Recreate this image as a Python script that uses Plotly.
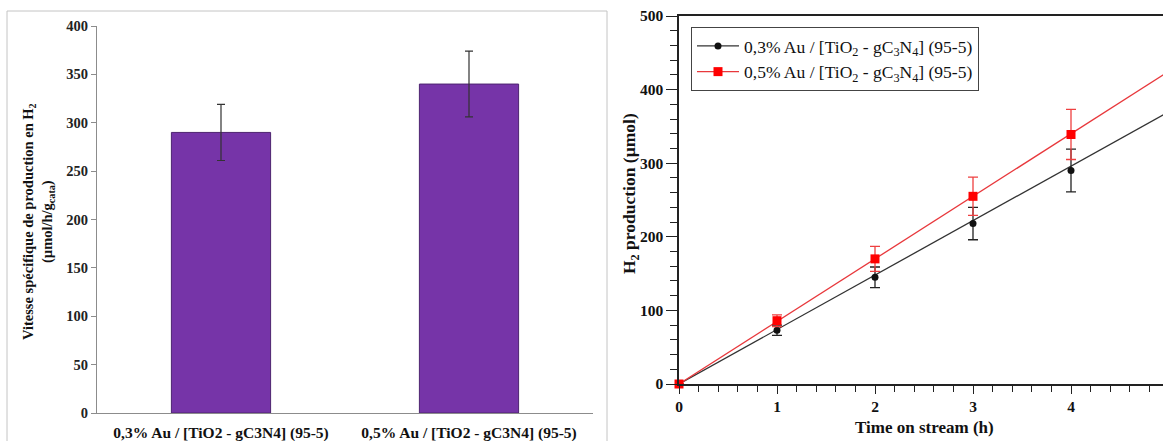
import plotly.graph_objects as go

# ---------------- data ----------------
bar_categories = ["0,3% Au / [TiO2 - gC3N4] (95-5)", "0,5% Au / [TiO2 - gC3N4] (95-5)"]
bar_values = [290, 340]
bar_errors = [29, 34]

time_h = [0, 1, 2, 3, 4]
h2_03 = [0, 73, 145, 218, 290]
h2_03_err = [0, 7, 14, 22, 29]
h2_05 = [0, 86, 170, 255, 339]
h2_05_err = [0, 8, 17, 26, 34]

fit_x = [0, 5]
fit_03 = [0, 370]
fit_05 = [0, 425]

series_names = ["0,3% Au / [TiO<sub>2</sub> - gC<sub>3</sub>N<sub>4</sub>] (95-5)",
                "0,5% Au / [TiO<sub>2</sub> - gC<sub>3</sub>N<sub>4</sub>] (95-5)"]

W, H = 1163, 441
def px(x):
    return x / W
def py(y):
    return 1 - y / H

SERIF = "Liberation Serif"
BLACK = "#111111"
RED = "#ff0000"
RED_LINE = "#e8383c"

fig = go.Figure()

# ---------- left: bar chart ----------
fig.add_trace(go.Bar(
    x=bar_categories, y=bar_values,
    marker=dict(color="#7634a8", line=dict(color="#4e2470", width=1)),
    error_y=dict(type="data", array=bar_errors, color="#333333", thickness=1.2, width=4),
    xaxis="x", yaxis="y", showlegend=False,
))

# ---------- right: line chart ----------
fig.add_trace(go.Scatter(x=fit_x, y=fit_03, mode="lines",
                         line=dict(color="#333333", width=1.3),
                         xaxis="x2", yaxis="y2", showlegend=False))
fig.add_trace(go.Scatter(x=fit_x, y=fit_05, mode="lines",
                         line=dict(color=RED_LINE, width=1.3),
                         xaxis="x2", yaxis="y2", showlegend=False))
fig.add_trace(go.Scatter(x=time_h, y=h2_03, mode="markers",
                         marker=dict(color=BLACK, size=7, symbol="circle"),
                         error_y=dict(type="data", array=h2_03_err, color="#222222", thickness=1.3, width=5),
                         xaxis="x2", yaxis="y2", showlegend=False, cliponaxis=False))
fig.add_trace(go.Scatter(x=time_h, y=h2_05, mode="markers",
                         marker=dict(color=RED, size=9, symbol="square"),
                         error_y=dict(type="data", array=h2_05_err, color="#ee4040", thickness=1.3, width=5),
                         xaxis="x2", yaxis="y2", showlegend=False, cliponaxis=False))
# legend entries
fig.add_trace(go.Scatter(x=[None], y=[None], mode="lines+markers", name=series_names[0],
                         line=dict(color="#333333", width=1.3),
                         marker=dict(color=BLACK, size=7, symbol="circle"),
                         xaxis="x2", yaxis="y2"))
fig.add_trace(go.Scatter(x=[None], y=[None], mode="lines+markers", name=series_names[1],
                         line=dict(color=RED_LINE, width=1.3),
                         marker=dict(color=RED, size=9, symbol="square"),
                         xaxis="x2", yaxis="y2"))

axis_gray = "#8c8c8c"
fig.update_layout(
    width=W, height=H,
    margin=dict(l=0, r=0, t=0, b=0, autoexpand=False),
    paper_bgcolor="white", plot_bgcolor="rgba(0,0,0,0)",
    bargap=0.6,
    font=dict(family=SERIF, color="#111111"),
    xaxis=dict(domain=[px(97), px(593)], showline=True, linecolor=axis_gray, linewidth=1,
               ticks="", showgrid=False, zeroline=False, automargin=False,
               tickfont=dict(family=SERIF, size=15.5, weight="bold", color="#111111"),
               ticklabelstandoff=5, anchor="y"),
    yaxis=dict(domain=[py(413), py(26)], range=[0, 400], dtick=50,
               showline=True, linecolor=axis_gray, linewidth=1,
               ticks="outside", ticklen=5, tickcolor=axis_gray,
               showgrid=False, zeroline=False, automargin=False,
               tickfont=dict(family=SERIF, size=14.5, weight="bold", color="#222222"),
               anchor="x"),
    xaxis2=dict(domain=[px(679), 1.0], range=[0, (W - 679) / 98.0], dtick=1,
                showline=True, mirror=True, linecolor="#222222", linewidth=1.5,
                ticks="outside", ticklen=8, tickcolor="#222222", tickwidth=1.3,
                minor=dict(dtick=0.2, ticks="outside", ticklen=6, tickcolor="#222222", tickwidth=1.2),
                showgrid=False, zeroline=False, automargin=False,
                tickfont=dict(family=SERIF, size=15.5, weight="bold", color="#111111"),
                anchor="y2"),
    yaxis2=dict(domain=[py(384), py(16)], range=[0, 500], dtick=100,
                showline=True, linecolor="#222222", linewidth=1.5,
                ticks="outside", ticklen=11, tickcolor="#222222", tickwidth=1.3,
                minor=dict(dtick=20, ticks="outside", ticklen=7, tickcolor="#222222", tickwidth=1.2),
                showgrid=False, zeroline=False, automargin=False,
                tickfont=dict(family=SERIF, size=15.5, weight="bold", color="#111111"),
                anchor="x2"),
    legend=dict(x=px(691), y=py(27), xanchor="left", yanchor="top",
                bordercolor="#444444", borderwidth=1, bgcolor="white",
                font=dict(family=SERIF, size=17.5, color="#111111"),
                itemwidth=42, tracegroupgap=0),
    shapes=[dict(type="rect", xref="paper", yref="paper",
                 x0=px(7), x1=px(607), y0=-0.05, y1=py(11),
                 line=dict(color="#c4c4c4", width=1), fillcolor="rgba(0,0,0,0)", layer="below")],
    annotations=[
        dict(text="Vitesse spécifique de production en H<sub>2</sub><br>(µmol/h/g<sub>cata</sub>)",
             xref="paper", yref="paper", x=px(38), y=py(222), xanchor="center", yanchor="middle",
             textangle=-90, showarrow=False,
             font=dict(family=SERIF, size=14.5, weight="bold", color="#111111")),
        dict(text="H<sub>2</sub> production (µmol)",
             xref="paper", yref="paper", x=px(630), y=py(194), xanchor="center", yanchor="middle",
             textangle=-90, showarrow=False,
             font=dict(family=SERIF, size=17.5, weight="bold", color="#111111")),
        dict(text="Time on stream (h)",
             xref="paper", yref="paper", x=px(924), y=py(427), xanchor="center", yanchor="middle",
             showarrow=False,
             font=dict(family=SERIF, size=17, weight="bold", color="#111111")),
    ],
)

fig.write_html("out.html", config={"displayModeBar": False},
               post_script="document.body.style.margin='0';document.body.style.padding='0';")
